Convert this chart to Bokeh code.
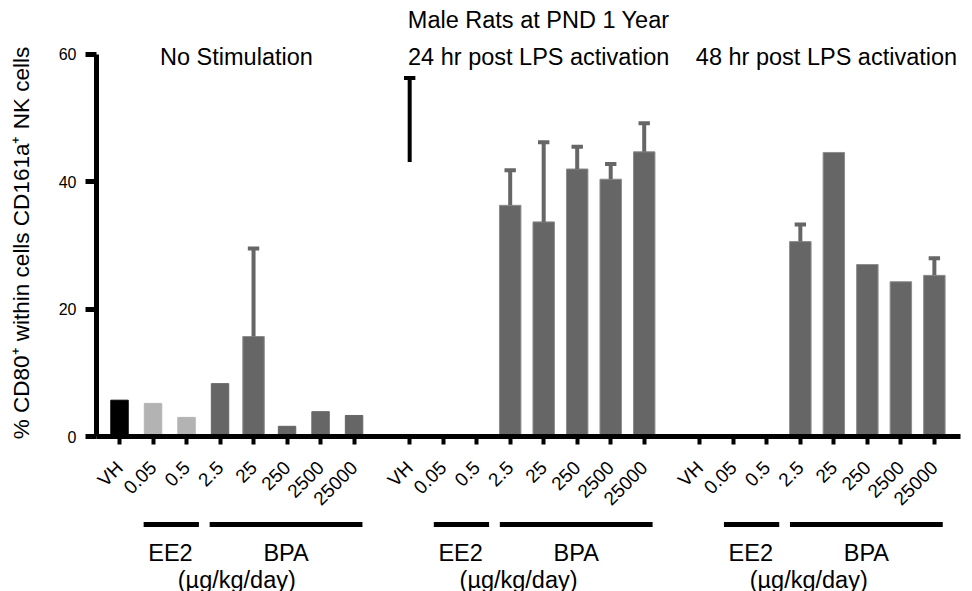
import math
from bokeh.plotting import figure
from bokeh.layouts import column, row
from bokeh.models import ColumnDataSource, FixedTicker, Range1d
from bokeh.core.properties import value
from bokeh.embed import file_html
from bokeh.resources import INLINE

nan = float("nan")

# ---------------- data ----------------
doses = ["VH", "0.05", "0.5", "2.5", "25", "250", "2500", "25000"]
treatments = ["VH", "EE2", "EE2", "BPA", "BPA", "BPA", "BPA", "BPA"]
panel_titles = ["No Stimulation", "24 hr post LPS activation", "48 hr post LPS activation"]
main_title = "Male Rats at PND 1 Year"
y_label = "% CD80\u207a within cells CD161a\u207a NK cells"
unit_label = "(\u00b5g/kg/day)"
group_names = ["EE2", "BPA"]
y_ticks = [0, 20, 40, 60]

no_stim_mean = [5.7, 5.2, 3.0, 8.3, 15.7, 1.6, 3.9, 3.3]
no_stim_err = [nan, nan, nan, nan, 29.5, nan, nan, nan]
lps24_mean = [43.1, nan, nan, 36.3, 33.7, 42.0, 40.4, 44.7]
lps24_err = [56.3, nan, nan, 41.8, 46.2, 45.5, 42.8, 49.2]
lps48_mean = [nan, nan, nan, 30.6, 44.6, 27.0, 24.3, 25.3]
lps48_err = [nan, nan, nan, 33.3, nan, nan, nan, 28.0]

means = [no_stim_mean, lps24_mean, lps48_mean]
errs = [no_stim_err, lps24_err, lps48_err]

# ---------------- layout / style ----------------
STEP = 8.66
FONT = "Liberation Sans"
DARK = "#666666"
LIGHT = "#b3b3b3"
EDGE = "#8c8c8c"
LABW = 40
W = 972 - LABW
LEFT, RIGHT = 56, 12
H1 = 519
H2 = 72
HT = H1 + H2


def isnum(v):
    return v == v


def pos(g, i):
    return round(g * STEP + i, 3)


bx, btop, bw, bfill, bline = [], [], [], [], []
ex, ey0, ey1, ecol = [], [], [], []
for g in range(3):
    for i, d in enumerate(doses):
        m = means[g][i]
        e = errs[g][i]
        if treatments[i] == "VH":
            fill = "black" if g == 0 else "white"
            ecolor = "black"
        elif treatments[i] == "EE2":
            fill = LIGHT
            ecolor = LIGHT
        else:
            fill = DARK
            ecolor = DARK
        if isnum(m):
            bx.append(pos(g, i))
            btop.append(m)
            wide = g > 0 or isnum(e)
            bw.append(0.64 if wide else 0.52)
            bfill.append(fill)
            if fill == "white":
                bline.append("white")
            else:
                bline.append(EDGE if wide else fill)
            if isnum(e):
                ex.append(pos(g, i))
                ey0.append(m)
                ey1.append(e)
                ecol.append(ecolor)

bars = ColumnDataSource(dict(x=bx, top=btop, w=bw, fill=bfill, line=bline))
errsrc = ColumnDataSource(dict(x=ex, y0=ey0, y1=ey1, c=ecol,
                               xl=[v - 0.17 for v in ex], xr=[v + 0.17 for v in ex]))

xr = Range1d(-0.687, 25.10)
p = figure(width=W, height=H1, x_range=xr, y_range=Range1d(0, 68.46),
           output_backend="svg", toolbar_location=None,
           min_border_left=LEFT, min_border_right=RIGHT, min_border_top=0, min_border_bottom=H1 - 437)
p.outline_line_color = None
p.grid.visible = False
p.background_fill_color = "white"
p.border_fill_color = "white"

p.vbar(x="x", top="top", width="w", bottom=0, fill_color="fill", line_color="line",
       line_width=1, source=bars)
p.segment(x0="x", y0="y0", x1="x", y1="y1", line_color="c", line_width=4, source=errsrc)
p.segment(x0="xl", y0="y1", x1="xr", y1="y1", line_color="c", line_width=4, source=errsrc)

# x axis
ticks = [pos(g, i) for g in range(3) for i in range(len(doses))]
overrides = {pos(g, i): d for g in range(3) for i, d in enumerate(doses)}
xa = p.xaxis[0]
xa.ticker = FixedTicker(ticks=ticks)
xa.major_label_overrides = overrides
xa.major_label_orientation = math.pi / 4
xa.axis_line_width = 5
xa.axis_line_color = "black"
xa.major_tick_line_width = 4
xa.major_tick_in = 0
xa.major_tick_out = 8
xa.minor_tick_line_color = None
xa.major_label_standoff = 20
xa.major_label_text_font = FONT
xa.major_label_text_font_size = "19px"
xa.major_label_text_color = "black"

# y axis
ya = p.yaxis[0]
ya.ticker = FixedTicker(ticks=y_ticks)
ya.bounds = (0, 60)
ya.axis_line_width = 5
ya.axis_line_color = "black"
ya.major_tick_line_width = 5
ya.major_tick_in = 0
ya.major_tick_out = 11
ya.minor_tick_line_color = None
ya.major_label_standoff = 9
ya.major_label_text_font = FONT
ya.major_label_text_font_size = "16px"
ya.major_label_text_color = "black"

# titles (inside the top frame, above the 60 mark)
title_x = [3.49, 12.51, 21.1]
tsrc = ColumnDataSource(dict(x=[12.51] + title_x, y=[65.33, 59.53, 59.53, 59.53],
                             t=[main_title] + panel_titles))
p.text(x="x", y="y", text="t", source=tsrc, text_align="center", text_baseline="middle",
       text_font=value(FONT), text_font_size="23.5px", text_color="black")

# lower strip: treatment brackets and labels, sharing the x scale
q = figure(width=W, height=H2, x_range=xr, y_range=Range1d(0, H2),
           output_backend="svg", toolbar_location=None,
           x_axis_location=None, y_axis_location=None,
           min_border_left=LEFT, min_border_right=RIGHT, min_border_top=0, min_border_bottom=0)
q.outline_line_color = None
q.grid.visible = False
q.border_fill_color = "white"

bracket_spans = [(0.72, 2.37), (2.69, 7.25)]
name_x = [1.52, 4.97]
unit_x = [3.5, 3.25, 3.25]
sx0, sx1, lx, ly, lt = [], [], [], [], []
for g in range(3):
    base = g * STEP
    for (a, b) in bracket_spans:
        sx0.append(base + a)
        sx1.append(base + b)
    for k, nm in enumerate(group_names):
        lx.append(base + name_x[k])
        ly.append(39)
        lt.append(nm)
    lx.append(base + unit_x[g])
    ly.append(12)
    lt.append(unit_label)

q.segment(x0=sx0, y0=[67] * len(sx0), x1=sx1, y1=[67] * len(sx0), line_color="black",
          line_width=5)
q.text(x=lx, y=ly, text=lt, text_align="center", text_baseline="middle",
       text_font=value(FONT), text_font_size="23.5px", text_color="black")

# left strip: y-axis title
lab = figure(width=LABW, height=HT, x_range=Range1d(0, LABW), y_range=Range1d(0, HT),
             output_backend="svg", toolbar_location=None,
             x_axis_location=None, y_axis_location=None,
             min_border_left=0, min_border_right=0, min_border_top=0, min_border_bottom=0)
lab.outline_line_color = None
lab.grid.visible = False
lab.border_fill_color = "white"
lab.text(x=[21], y=[HT - 242.5], text=[y_label], angle=math.pi / 2, text_align="center",
         text_baseline="middle", text_font=value(FONT), text_font_size="22.5px",
         text_color="black")

layout = row(lab, column(p, q, spacing=0), spacing=0)
open("out.html", "w").write(file_html(layout, INLINE))
